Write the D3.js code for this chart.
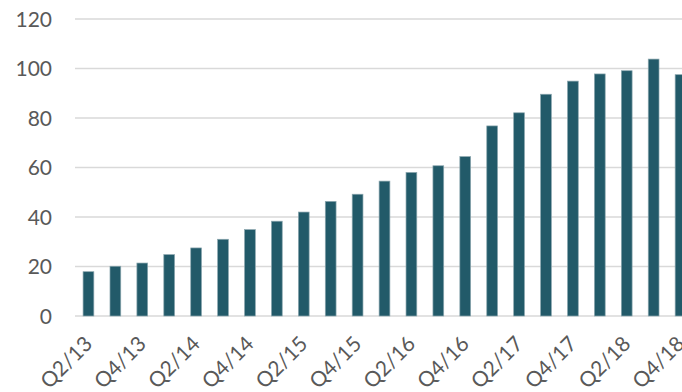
<!DOCTYPE html>
<html>
<head>
<meta charset="utf-8">
<script src="https://cdn.jsdelivr.net/npm/d3@7"></script>
<style>
  html, body { margin: 0; padding: 0; background: #ffffff; }
  svg { display: block; }
  text { font-family: Lato, "Open Sans", sans-serif; fill: #595959; }
</style>
</head>
<body>
<svg id="chart" width="682" height="392"></svg>
<script>
// Quarterly series, Q2/13 to Q4/18
const quarters = [
  "Q2/13","Q3/13","Q4/13",
  "Q1/14","Q2/14","Q3/14","Q4/14",
  "Q1/15","Q2/15","Q3/15","Q4/15",
  "Q1/16","Q2/16","Q3/16","Q4/16",
  "Q1/17","Q2/17","Q3/17","Q4/17",
  "Q1/18","Q2/18","Q3/18","Q4/18"
];
const values = [
  17.9, 20.1, 21.4,
  24.8, 27.5, 31.0, 34.9,
  38.3, 42.0, 46.3, 49.2,
  54.5, 58.0, 60.7, 64.4,
  76.8, 82.1, 89.6, 94.9,
  97.8, 99.1, 103.8, 97.5
];
const yTicks = [0, 20, 40, 60, 80, 100, 120];
// every second quarter gets a label
const xLabels = quarters.filter((q, i) => i % 2 === 0);

const svg = d3.select("#chart");
const plot = { left: 75, right: 694, top: 19, bottom: 316 };

const x = d3.scaleBand()
  .domain(quarters)
  .range([plot.left, plot.right])
  .paddingInner(0.6)
  .paddingOuter(0.3);

const y = d3.scaleLinear()
  .domain([0, 120])
  .range([plot.bottom, plot.top]);

// horizontal gridlines
svg.append("g")
  .selectAll("line")
  .data(yTicks)
  .join("line")
  .attr("x1", plot.left)
  .attr("x2", 682)
  .attr("y1", d => y(d))
  .attr("y2", d => y(d))
  .attr("stroke", "#d9d9d9")
  .attr("stroke-width", 1.5);

// y axis labels
const yAxis = d3.axisLeft(y).tickValues(yTicks).tickSize(0).tickPadding(0);
const gy = svg.append("g")
  .attr("transform", `translate(52,0)`)
  .call(yAxis);
gy.select(".domain").remove();
gy.selectAll("text")
  .attr("font-size", 21)
  .attr("dy", "0.35em")
  .style("font-family", "Lato, sans-serif")
  .attr("fill", "#595959");

// bars
svg.append("g")
  .selectAll("rect")
  .data(values)
  .join("rect")
  .attr("x", (d, i) => x(quarters[i]))
  .attr("width", x.bandwidth())
  .attr("y", d => y(d))
  .attr("height", d => y(0) - y(d))
  .attr("fill", "#225a69")
  .attr("stroke", "#8aa6ae")
  .attr("stroke-width", 0.7);

// x axis labels, rotated
const xAxis = d3.axisBottom(x).tickValues(xLabels).tickSize(0).tickPadding(0);
const gx = svg.append("g")
  .attr("transform", `translate(0,${plot.bottom})`)
  .call(xAxis);
gx.select(".domain").remove();
gx.selectAll("text")
  .attr("font-size", 21)
  .style("font-family", "Lato, sans-serif")
  .attr("fill", "#595959")
  .attr("text-anchor", "end")
  .attr("dy", "0.35em")
  .attr("transform", "translate(0,24) rotate(-45)");
</script>
</body>
</html>
